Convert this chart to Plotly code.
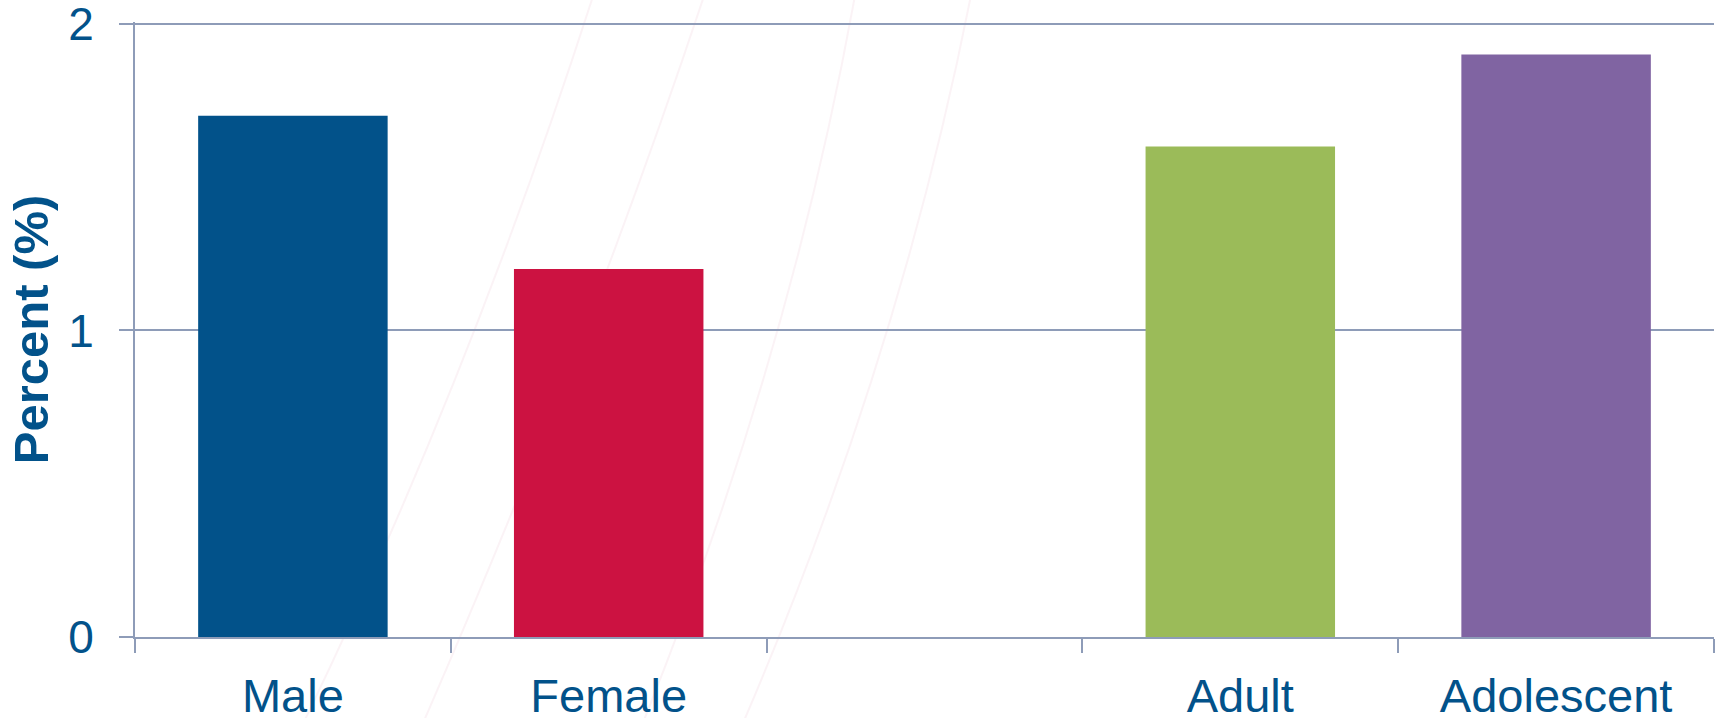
import plotly.graph_objects as go

categories = ["Male", "Female", " ", "Adult", "Adolescent"]
values = [1.7, 1.2, None, 1.6, 1.9]
bar_colors = ["#02528A", "#CC1241", "rgba(0,0,0,0)", "#9BBB59", "#8064A2"]
y_ticks = [0, 1, 2]

W, H = 1717, 718
L, R, T, B = 135, 3, 22, 81
Y_MAX = 2.006
axis_color = "#8E9CB8"
text_color = "#02528A"
font_family = "Arial, Liberation Sans, sans-serif"

fig = go.Figure()
fig.add_trace(go.Bar(
    x=categories, y=values,
    marker=dict(color=bar_colors, line=dict(width=0)),
    hoverinfo="x+y",
))

# faint decorative arcs in the background (pixel -> paper conversion)
pw, ph = W - L - R, H - T - B
def px(x):
    return (x - L) / pw
def py(y):
    return 1 - (y - T) / ph

arcs = [
    [(595, -10), (470, 380), (300, 730)],
    [(706, -10), (590, 340), (420, 730)],
    [(856, -10), (790, 360), (640, 730)],
    [(972, -10), (900, 360), (740, 730)],
]
shapes = []
for (x0, y0), (x1, y1), (x2, y2) in arcs:
    path = f"M {px(x0)},{py(y0)} Q {px(x1)},{py(y1)} {px(x2)},{py(y2)}"
    shapes.append(dict(type="path", path=path, xref="paper", yref="paper",
                       line=dict(color="rgba(225,160,180,0.12)", width=2),
                       layer="below"))

fig.update_layout(
    width=W, height=H,
    margin=dict(l=L, r=R, t=T, b=B, pad=0, autoexpand=False),
    paper_bgcolor="white", plot_bgcolor="rgba(0,0,0,0)",
    showlegend=False,
    bargap=0.4,
    shapes=shapes,
    font=dict(family=font_family, color=text_color),
    xaxis=dict(
        type="category", categoryorder="array", categoryarray=categories,
        range=[-0.5, 4.5], automargin=False,
        showline=True, linecolor=axis_color, linewidth=2,
        ticks="outside", tickson="boundaries", ticklen=14, tickcolor=axis_color, tickwidth=2,
        showgrid=False, zeroline=False,
        tickfont=dict(size=47, color=text_color, family=font_family),
        ticklabelstandoff=17, ticklabeloverflow="allow",
    ),
    yaxis=dict(
        range=[0, Y_MAX], tickvals=y_ticks, ticktext=[str(v) for v in y_ticks],
        automargin=False,
        showline=True, linecolor=axis_color, linewidth=2,
        ticks="outside", ticklen=14, tickcolor=axis_color, tickwidth=2,
        showgrid=True, gridcolor=axis_color, gridwidth=2,
        zeroline=False,
        tickfont=dict(size=46, color=text_color, family=font_family),
        ticklabelstandoff=16, ticklabeloverflow="allow",
        title=dict(text="<b>Percent (%)</b>", font=dict(size=49, color=text_color, family=font_family), standoff=4),
    ),
)

fig.write_html("out.html")
